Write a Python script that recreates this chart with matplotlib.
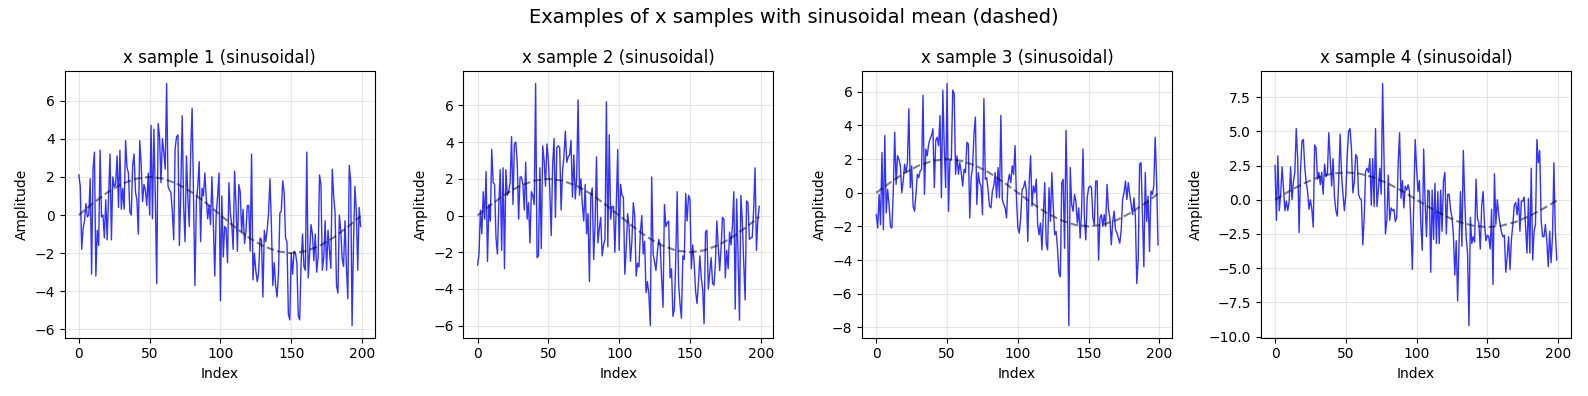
import numpy as np
import matplotlib.pyplot as plt

#значения выборок (индексы 0..199)
sample1 = [
    2.1, 1.5, -1.8, -0.7, -0.3, 0.6, -0.1, 0.0, 1.9, -3.1,
    2.4, 3.3, -3.2, -0.8, -1.6, 3.4, -0.1, 0.0, -1.2, 0.8,
    -1.3, 1.0, 3.2, -1.3, 2.0, 1.5, 1.6, 3.1, 0.4, 3.4,
    0.3, 1.4, 0.3, 3.9, 2.5, 2.2, 0.2, 0.0, 2.6, 3.2,
    1.2, 0.8, -1.0, 3.9, 2.7, 0.7, 1.6, 1.3, 0.5, 2.2,
    0.0, 4.7, -0.2, 4.5, 1.0, -3.6, 4.8, 4.1, 1.7, 4.0,
    3.3, 2.4, 6.9, 1.5, 1.3, 1.2, 0.2, -1.3, 3.5, 4.1,
    4.2, -1.6, 1.2, 5.2, 0.5, -1.4, 3.1, 0.9, -0.6, 3.4,
    5.6, 0.9, -3.7, 0.7, 1.5, 2.8, -1.4, 1.4, 1.0, 2.2,
    0.9, -0.2, 0.5, -0.5, 2.0, -0.4, -3.2, 0.0, 1.0, 2.2,
    -4.5, 1.0, -2.2, -0.6, -0.7, -2.5, 1.7, 0.1, -0.5, -1.8,
    2.3, 0.5, -1.9, 1.6, 1.2, -0.9, 0.3, -1.5, -0.9, 0.5,
    0.5, -1.9, 3.2, -3.4, -2.0, -2.9, -3.5, -3.0, -1.2, -1.3,
    -4.3, -0.8, -1.4, -0.8, 0.1, 1.9, -0.5, -3.7, -2.5, -3.7,
    -4.3, -3.1, 0.1, 0.2, 1.8, 1.2, -1.2, -1.4, -5.2, -5.5,
    -2.0, -3.1, -1.9, -2.0, -2.5, -5.3, -5.5, -2.5, -1.0, -2.7,
    -2.9, 3.3, -3.3, -2.0, -0.5, -1.0, -2.4, -1.0, -3.0, -2.2,
    2.1, 1.6, -2.9, -2.2, -0.3, -2.9, -0.8, -1.8, -2.8, 2.4,
    1.0, 0.1, -3.7, -4.1, 0.0, -0.8, -2.3, -2.7, -0.3, -2.7,
    -4.4, 2.6, 1.8, -5.8, -1.5, 1.5, 0.2, -2.9, 0.4, -0.6,
]

sample2 = [
    -2.7, -2.1, 0.3, -1.0, 1.3, -0.2, 2.4, -2.5, 0.6, -0.3,
    3.6, 1.8, 1.7, -1.2, -2.1, 0.6, 2.5, -1.9, 2.6, -2.9,
    2.5, 1.1, 1.3, 1.8, 4.3, 0.6, 3.9, 4.0, 2.9, -0.2,
    2.1, 2.1, 1.7, 0.3, 2.9, -0.2, 0.7, -1.5, 1.3, 1.1,
    0.6, 7.2, -2.3, -2.2, 2.6, -1.8, 3.8, 3.0, 1.6, 3.9,
    3.0, 1.4, -1.1, 2.7, 4.2, -0.1, 3.7, 3.8, 3.7, 0.3,
    2.4, 3.2, 4.6, 2.9, 3.2, 3.3, 4.1, 1.0, 3.3, 0.9,
    2.1, 6.3, 1.1, 2.0, 0.6, -0.3, 1.7, -1.0, 0.1, -3.6,
    1.1, 1.5, -2.4, -0.5, 3.2, -1.5, -0.7, -0.1, -2.2, -1.6,
    -1.3, 6.2, -1.7, 4.4, -0.2, 0.5, 0.5, -2.0, 0.6, 3.6,
    -1.9, 1.7, 1.1, 1.0, -3.2, -1.8, 0.1, -0.6, -2.5, -1.4,
    0.7, 0.0, -3.3, -2.6, -2.8, -0.9, 0.0, -2.1, -1.4, -4.2,
    -3.6, -4.3, -6.0, 2.1, -2.1, -2.5, -3.0, -2.0, -1.3, -1.6,
    -3.4, -5.0, 0.6, -0.6, -0.4, -0.3, -3.4, -2.9, -5.5, -5.1,
    -2.3, 1.3, -3.7, -4.8, -5.6, -2.2, -2.4, 1.2, -0.3, 1.1,
    0.9, -2.9, -1.6, -2.6, -4.1, -4.8, -3.7, -2.2, -3.4, -4.0,
    -5.9, -0.9, -0.8, -4.0, -3.1, -2.3, -3.7, -3.8, -2.6, -0.3,
    -1.7, -3.0, -1.8, -0.1, -0.2, -3.4, -1.9, -2.9, -0.9, -1.6,
    -0.6, 1.3, -5.1, 0.9, -2.2, -5.7, 1.1, -0.3, -2.6, -4.6,
    0.8, 0.7, -1.3, -1.2, -1.2, 0.3, 2.6, -1.9, -0.2, 0.5,
]

sample3 = [
    -1.3, -2.1, -0.1, -1.9, 2.4, -2.2, 3.4, -1.2, 0.2, -0.7,
    -2.0, -2.1, 0.1, 3.6, 0.5, 2.2, 2.0, 1.6, -0.0, 0.7,
    1.7, 1.2, 1.8, 5.0, 0.3, 1.6, -0.8, -1.1, -0.1, 1.1,
    0.9, 1.3, 1.4, 5.8, -0.1, 2.6, 2.2, 2.9, 3.2, 3.4,
    3.8, 0.3, 3.1, 3.3, 2.8, 4.6, -0.3, 6.1, 2.7, 0.3,
    6.5, -1.1, 1.9, 2.0, 6.1, 5.9, 1.1, 2.2, 1.1, 1.8,
    1.2, 0.4, 1.4, 1.2, 3.0, 2.9, -1.5, 0.9, 1.5, 3.5,
    4.5, -0.7, 1.2, 0.6, 0.4, -1.3, 5.6, 0.8, 0.9, 0.1,
    -0.8, -0.9, 0.1, 0.4, 1.2, -0.3, 1.5, -0.3, 4.6, -0.4,
    -0.7, -0.9, -1.5, 0.6, 1.1, 0.6, 1.6, 1.1, 2.8, -0.3,
    -2.1, -2.4, -1.5, 0.2, 0.3, 0.7, 0.1, -2.9, 0.6, 2.2,
    -0.8, 0.4, -0.0, 0.8, -1.9, -2.5, -1.8, -3.4, -1.3, 0.6,
    -3.0, -3.4, 0.3, -1.7, 1.2, -0.8, -2.5, -2.3, -3.3, -4.8,
    -5.0, 0.6, 0.8, -3.3, 3.7, -0.5, -7.9, 1.5, -0.7, -1.1,
    -0.1, -0.5, -1.8, -0.9, -2.7, -1.1, 2.6, -1.5, -2.8, -0.3,
    0.3, 0.4, 0.3, -1.5, -1.9, 0.7, 0.7, -4.0, -1.5, -1.3,
    -2.0, -1.3, -2.0, 0.5, -1.0, -1.5, -3.1, -1.7, -1.1, -2.2,
    -2.4, -2.7, -3.0, -2.2, -0.4, -0.0, 0.7, -0.4, 0.6, -0.1,
    -0.7, -1.3, -0.3, -1.4, -5.4, -4.0, 1.7, 1.8, -1.3, -4.4,
    1.2, -1.7, -0.2, -3.5, 0.1, -0.1, 0.4, 3.3, 0.8, -3.1,
]

sample4 = [
    2.5, -1.5, 3.2, -0.8, 0.4, 2.4, 0.8, -0.8, -0.1, -0.8,
    -0.1, 2.4, 0.0, 1.3, 2.0, 5.2, 3.0, -2.4, 2.1, 4.3,
    4.4, 2.4, 1.3, 0.6, -0.7, 0.0, -0.7, -2.0, 4.0, 3.8,
    1.5, 2.0, 1.1, 2.0, 0.4, 2.6, 1.7, 1.9, 4.9, 3.0,
    1.0, 3.0, 0.2, -0.8, -1.2, 1.5, 4.8, 1.8, 0.4, -0.8,
    0.4, 3.2, 5.0, 5.2, 3.7, 0.5, 1.3, 3.3, 3.1, 0.4,
    0.1, 0.0, -3.3, -1.3, 2.1, 2.3, 2.0, 3.0, -0.4, 3.0,
    -0.5, 5.2, -0.5, 0.7, 2.3, 0.4, 8.5, 3.0, -2.5, -1.5,
    1.8, -1.5, -0.6, -0.8, -0.7, -1.6, -1.3, 2.7, 4.9, 0.1,
    1.4, -0.6, 1.0, 0.7, 1.1, 0.6, -1.8, -5.1, -0.2, 4.4,
    2.3, 0.6, 1.4, -1.8, -3.7, 3.7, -0.1, -2.7, 0.7, 0.6,
    -5.3, 0.7, -2.9, 1.2, -3.2, 0.6, -3.2, 0.7, -2.3, 1.4,
    2.0, -2.5, 0.4, 0.4, -0.7, -1.3, -2.5, -5.5, -3.0, -7.4,
    -3.2, 0.6, -3.4, 3.6, 0.1, -2.7, -3.9, -9.2, -1.3, -3.2,
    -2.7, -3.1, 1.5, -1.4, -1.7, -3.6, -0.4, 0.6, -1.8, -3.0,
    -2.6, -2.7, -3.6, -0.7, -6.2, 1.9, -1.8, 0.0, -1.1, -1.8,
    -2.4, -2.7, -2.6, -5.3, -4.2, -2.7, -5.1, -2.9, -1.8, -0.4,
    -0.2, -1.1, 0.1, -2.3, -0.1, -0.1, 0.2, -2.0, -3.9, 0.1,
    -3.9, 2.3, -4.4, -2.3, -1.8, 4.4, 2.7, 3.6, -1.5, -2.7,
    -2.7, -1.8, -3.0, -4.9, -2.3, -4.6, -2.7, 2.7, -2.3, -4.4,
]

#среднее (пунктир)
mean_x = [0, 10, 20, 30, 40, 50, 60, 70, 80, 90, 100,
          110, 120, 130, 140, 150, 160, 170, 180, 190, 199]
mean_y = [0.0, 0.62, 1.18, 1.62, 1.9, 2.0, 1.9, 1.62, 1.18, 0.62, 0.0,
          -0.62, -1.18, -1.62, -1.9, -2.0, -1.9, -1.62, -1.18, -0.62, -0.06]

samples = [sample1, sample2, sample3, sample4]
titles = ['x sample 1 (sinusoidal)', 'x sample 2 (sinusoidal)',
          'x sample 3 (sinusoidal)', 'x sample 4 (sinusoidal)']

fig, axes = plt.subplots(1, 4, figsize=(15.88, 3.96))

for ax, seq, title in zip(axes, samples, titles):
    x = np.arange(len(seq))
    ax.plot(x, seq, color='blue', alpha=0.8, linewidth=1)
    ax.plot(mean_x, mean_y, 'k--', alpha=0.5, linewidth=1.5)
    ax.set_title(title)
    ax.set_xlabel('Index')
    ax.set_ylabel('Amplitude')
    ax.grid(True, alpha=0.3)

fig.suptitle('Examples of x samples with sinusoidal mean (dashed)', fontsize=14)
plt.tight_layout()
plt.savefig('out.png', dpi=100)
